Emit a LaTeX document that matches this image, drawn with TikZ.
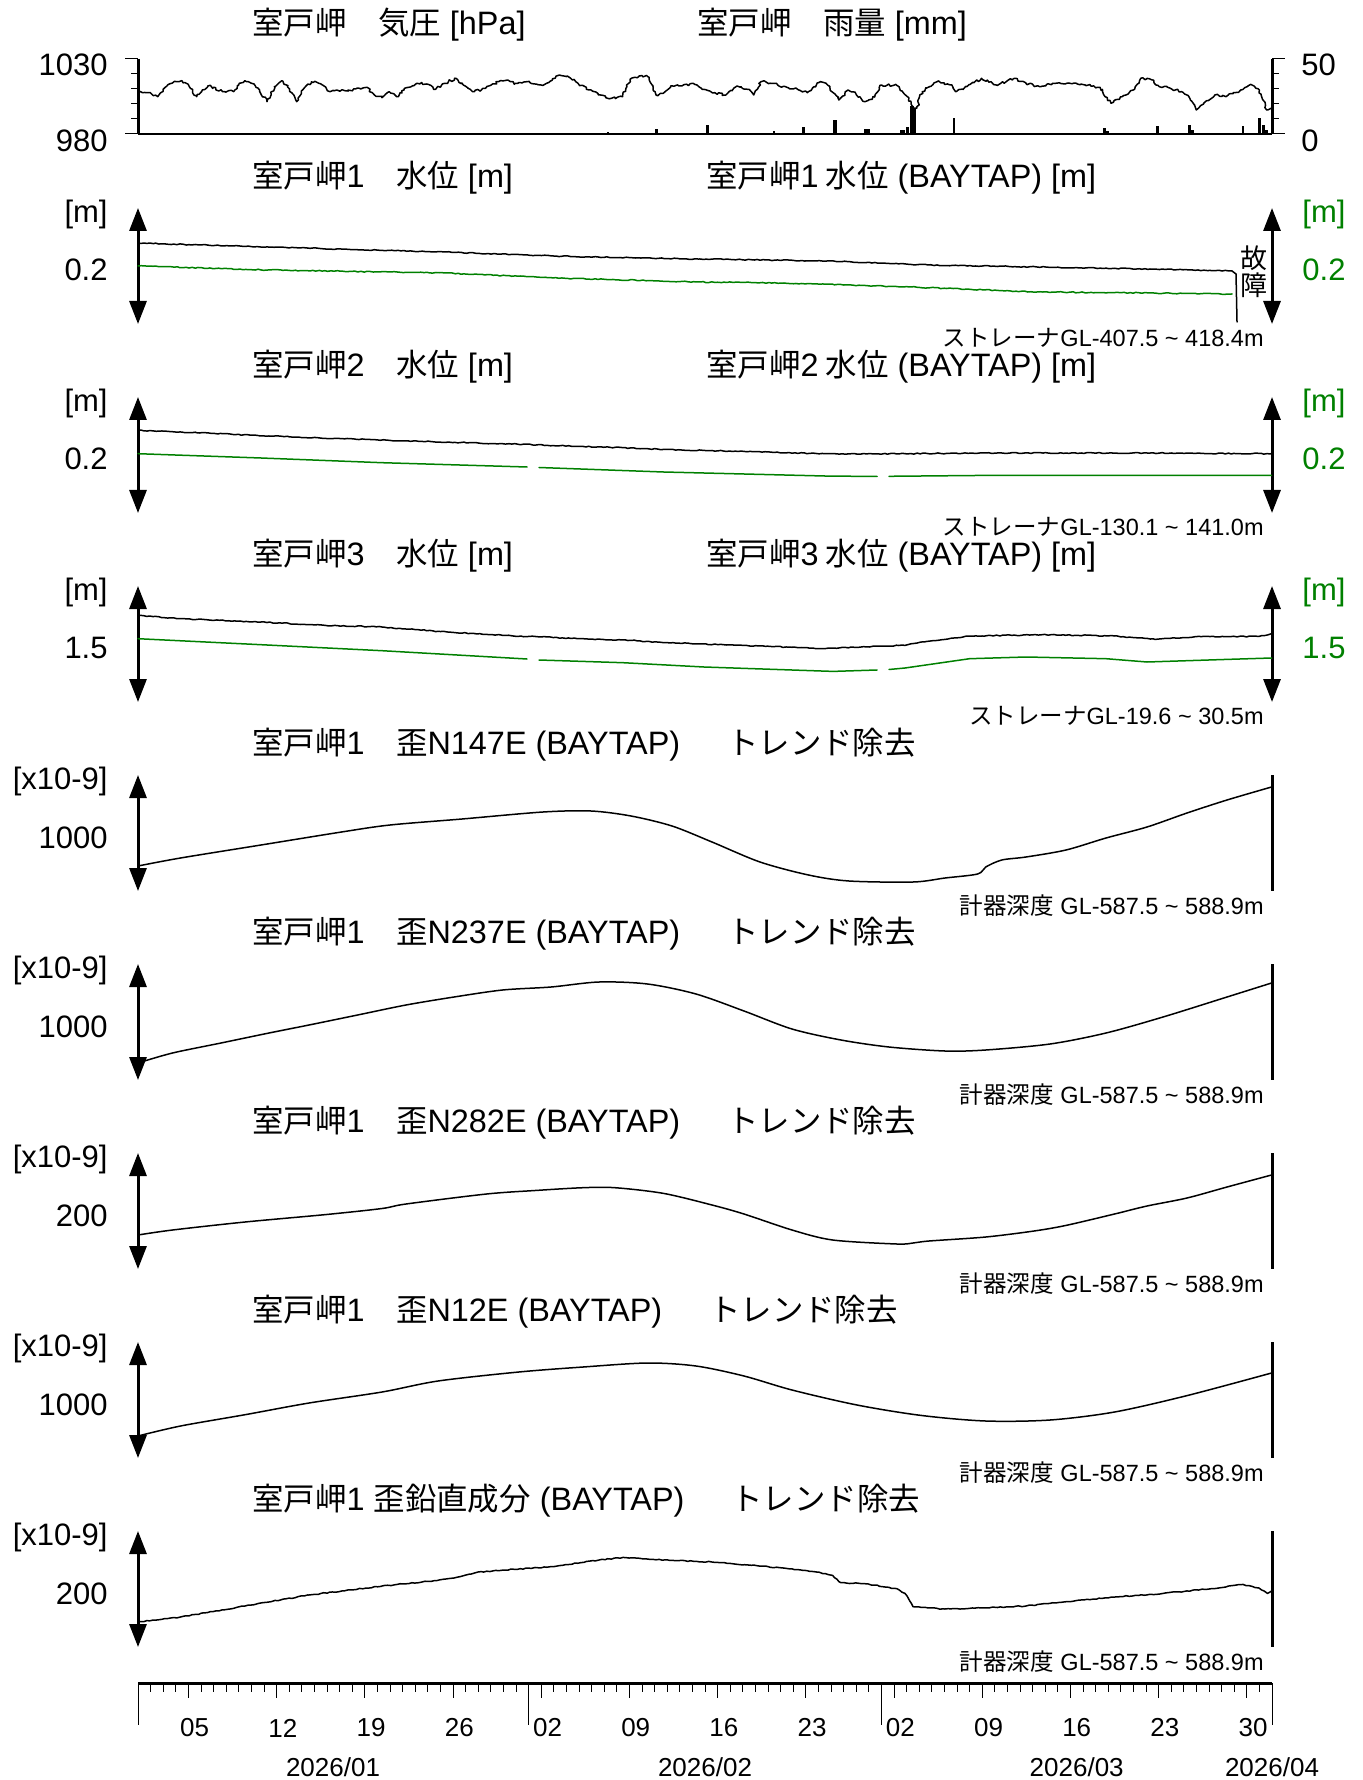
\documentclass[tikz,border=0pt]{standalone}
\usepackage{fontspec}
\setmainfont{Liberation Sans}
\newfontfamily\jp{Noto Sans CJK JP}
\newfontfamily\jps[Scale=0.97]{Noto Sans CJK JP}
\usetikzlibrary{arrows.meta,decorations.pathmorphing}
\definecolor{dgreen}{RGB}{0,128,0}
\begin{document}
\begin{tikzpicture}[x=0.5pt,y=-0.5pt,
  ttl/.style={anchor=west,inner sep=0pt,font=\fontsize{16.2}{18}\selectfont},
  lbl/.style={anchor=east,inner sep=0pt,font=\fontsize{15.5}{18}\selectfont},
  rlbl/.style={anchor=west,inner sep=0pt,font=\fontsize{15.5}{18}\selectfont,text=dgreen},
  note/.style={anchor=east,inner sep=0pt,font=\fontsize{11.75}{14}\selectfont},
  datelbl/.style={inner sep=0pt,font=\fontsize{13}{15}\selectfont},
  crv/.style={line width=0.75pt,line join=round,line cap=round},
  gcrv/.style={crv,draw=dgreen},
  noisy/.style={decorate,decoration={random steps,segment length=1.1pt,amplitude=0.65pt}},
  fine/.style={decorate,decoration={random steps,segment length=1.5pt,amplitude=0.25pt}},
  varrow/.style={line width=1.5pt,{Triangle[width=8.5pt,length=11.5pt]}-{Triangle[width=8.5pt,length=11.5pt]}},
  axl/.style={line width=1.5pt},
  tck/.style={line width=0.5pt}]
\pgfmathsetseed{7}
\useasboundingbox (0,0) rectangle (1362,1780);

% ---------------- Panel 1 : pressure / rain ----------------
\node[ttl] (t1a) at (252,25) {{\jps 室戸岬　気圧} [hPa]};
\node[ttl] (t1b) at (697,25) {{\jps 室戸岬　雨量} [mm]};
\draw[axl] (138,59) -- (138,134);
\draw[axl] (1272,59) -- (1272,134);
\draw[line width=1pt] (138,134) -- (1272,134);
\foreach \y in {59,134} {\draw[tck] (125,\y) -- (138,\y); \draw[tck] (1272,\y) -- (1285,\y);}
\foreach \y in {74,89,104,119} {\draw[tck] (131,\y) -- (138,\y); \draw[tck] (1272,\y) -- (1279,\y);}
\node[lbl] (p1030) at (108,65) {1030};
\node[lbl] (p980) at (108,141) {980};
\node[anchor=west,inner sep=0pt,font=\fontsize{15.5}{18}\selectfont] (r50) at (1301,65) {50};
\node[anchor=west,inner sep=0pt,font=\fontsize{15.5}{18}\selectfont] (r0) at (1301,141) {0};
\foreach \x/\t/\w in {607.8/132.5/2,656/129/3,707.5/125/3,774/131.5/2,803.7/127/3,835/120.5/4,866.7/129/6,902/130/5,907/127/3,911.5/106.5/4,914/108/3,954/118/2,994/133/3,1104/128/3,1107/131.5/3,1157.4/126.5/3,1189/125/3,1192.6/130/3,1242.6/126.5/2,1259/118/3,1263/125/3,1266.7/130/3}
  \fill ({\x-\w/2},134) rectangle ({\x+\w/2},\t);
\draw[crv,noisy] plot coordinates {(138,91.5) (146.7,92.7) (157.8,96.7) (165.2,87.3) (176.3,81.7) (181.9,80.7) (189.3,86.7) (196.7,96.7) (207.8,86) (213.3,87.3) (222.6,91.7) (233.7,91.7) (239.3,83.3) (244.8,80.7) (254,84) (259.6,90) (267,101.7) (274.4,86.7) (281.9,80.7) (287.4,86.7) (296.7,101.7) (304,88.3) (311.5,81.7) (318.9,83.3) (330,91.7) (344.8,90.7) (359.6,88.3) (367,87.3) (374.4,95) (381.9,97.7) (389.3,91.7) (396.7,96.7) (404,90) (417,83.3) (426.3,84) (435.6,89.3) (444.8,83.3) (455.9,78.3) (463.3,85) (474.4,91.7) (485.6,88.3) (500.4,80.7) (507.8,80) (515.2,83.3) (530,82.7) (541,85) (548.5,82.7) (559.6,75) (570.7,78.3) (578,83.3) (589.3,90) (600.4,95) (611.5,98.3) (622.6,96.7) (630,79.3) (639.3,76) (647.8,76.7) (656,95) (663.3,93.3) (670.7,86) (681.9,86) (693,83.3) (702.2,89.3) (714.8,92.7) (725.9,95) (737,86) (748,89.3) (753.7,95) (761,81.7) (774,83.3) (781.5,87.3) (796.3,88.3) (807.4,92.7) (818.5,82.7) (826,83.3) (838.9,100) (848,90) (855.6,93.3) (864.8,101.7) (872.2,99.3) (881.5,85) (896.3,85) (907.4,96.7) (913,108.3) (916.7,108.3) (922.2,91.7) (937,81.7) (951.9,85) (955.6,91.7) (966.7,86.7) (981.5,78.3) (996.3,85) (1007.4,80.7) (1014.8,78.3) (1025.9,83.3) (1040.7,86.7) (1055.6,83.3) (1066.7,83.3) (1085.2,85) (1100,87.3) (1111,103.3) (1122.2,96.7) (1133.3,90) (1140.7,78.3) (1151.9,80) (1159.3,86.7) (1170.4,88.3) (1181.5,91.7) (1188.9,96.7) (1196.3,110) (1203.7,103.3) (1214.8,95) (1225.9,96.7) (1240.7,90) (1251.9,85) (1259.3,90) (1263,100) (1266.7,110) (1271,108.3)};

% ---------------- Panels 2-4 : water level ----------------
\foreach \T/\n/\v in {178/1/0.2,367/2/0.2,556/3/1.5} {
  \node[ttl] (wl\n) at (252,\T) {{\jps 室戸岬}\n{\jps 　水位} [m]};
  \node[ttl] (wr\n) at (706,\T) {{\jps 室戸岬}\n{\jps\ 水位} (BAYTAP) [m]};
  \node[lbl] (wu\n) at (108,\T+36) {[m]};
  \node[lbl] (wv\n) at (108,\T+92) {\v};
  \node[rlbl] (wgu\n) at (1302,\T+36) {[m]};
  \node[rlbl] (wgv\n) at (1302,\T+92) {\v};
  \draw[varrow] (138,\T+30) -- (138,\T+146);
  \draw[varrow] (1272,\T+30) -- (1272,\T+146);
}
\node[note] (s1) at (1264,338) {{\jp ストレーナ}GL-407.5 \textasciitilde{} 418.4m};
\node[note] (s2) at (1264,527) {{\jp ストレーナ}GL-130.1 \textasciitilde{} 141.0m};
\node[note] (s3) at (1264,716) {{\jp ストレーナ}GL-19.6 \textasciitilde{} 30.5m};
\node[inner sep=0pt,font=\jp\fontsize{13.5}{15}\selectfont] (f1) at (1254,258) {故};
\node[inner sep=0pt,font=\jp\fontsize{13.5}{15}\selectfont] (f2) at (1254,285) {障};

% panel 2
\draw[crv,fine] plot coordinates {(138,243) (200,245) (268,247) (350,249.5) (446,252) (553,256) (620,257.5) (700,259) (827,261) (928,265) (1037,267) (1150,269) (1232,271)};
\draw[crv] (1232,271) -- (1236,274) -- (1237,322);
\draw[gcrv,fine] plot coordinates {(138,266) (268,270) (446,273) (553,278) (700,282) (784,283) (911,287) (1037,292) (1150,293) (1232,294)};
% panel 3
\draw[crv,fine] plot coordinates {(138,430.4) (196.6,432.7) (269,436) (341.5,438.7) (422,441.4) (502.6,443.7) (583,446.4) (663.6,449.4) (744,451.4) (824.6,453.7) (905,453.7) (985.7,453) (1066,453) (1147,453) (1271.5,453.7)};
\draw[gcrv] plot coordinates {(138,453.7) (261,458) (382,462.7) (527,467)};
\draw[gcrv] plot coordinates {(539,467.5) (663.6,472) (824.6,476) (877,476.5)};
\draw[gcrv] plot coordinates {(889,476.3) (985.7,475.4) (1147,475.4) (1271.5,475.4)};
% panel 4
\draw[crv,fine] plot coordinates {(138,615.4) (180.5,618.7) (261,622) (325.4,625.4) (382,627) (438,631.4) (502.6,635.4) (583,638.7) (631,640.4) (663.6,642.7) (744,645.4) (824.6,648.7) (881,646) (905,645.4) (921,642) (969.6,636) (1042,634.7) (1114.5,636) (1155,639.4) (1195,636.7) (1259,636.4) (1271.5,633.7)};
\draw[gcrv] plot coordinates {(138,638.7) (261,644.7) (382,650.7) (527,659)};
\draw[gcrv] plot coordinates {(539,660) (623,662.7) (704,667) (833,671.4) (877,670)};
\draw[gcrv] plot coordinates {(889,669.5) (905,668) (969.6,658.7) (1026,657) (1106,658.7) (1147,662) (1227,659.4) (1271.5,658)};

% ---------------- Panels 5-9 : strain ----------------
\node[ttl] (st5) at (252,745) {{\jps 室戸岬}1{\jps 　歪}N147E (BAYTAP)\hspace{1.45em}{\jps トレンド除去}};
\node[ttl] (st6) at (252,934) {{\jps 室戸岬}1{\jps 　歪}N237E (BAYTAP)\hspace{1.45em}{\jps トレンド除去}};
\node[ttl] (st7) at (252,1123) {{\jps 室戸岬}1{\jps 　歪}N282E (BAYTAP)\hspace{1.45em}{\jps トレンド除去}};
\node[ttl] (st8) at (252,1312) {{\jps 室戸岬}1{\jps 　歪}N12E (BAYTAP)\hspace{1.45em}{\jps トレンド除去}};
\node[ttl] (st9) at (252,1501) {{\jps 室戸岬}1 {\jps 歪鉛直成分} (BAYTAP)\hspace{1.45em}{\jps トレンド除去}};
\foreach \T/\n/\v in {745/5/1000,934/6/1000,1123/7/200,1312/8/1000,1501/9/200} {
  \node[lbl] (su\n) at (108,\T+36) {[x10-9]};
  \node[lbl] (sv\n) at (108,\T+93) {\v};
  \draw[varrow] (138,\T+30) -- (138,\T+146);
  \draw[axl] (1272,\T+30) -- (1272,\T+146);
  \node[note] (sd\n) at (1264,\T+161) {{\jp 計器深度} GL-587.5 \textasciitilde{} 588.9m};
}
\draw[crv] plot[smooth,tension=0.5] coordinates {(138,866) (180.5,858) (261,845) (341.5,832) (390,825) (462,819) (543,812) (591,811) (631,816) (672,826) (712,842) (760,862) (808.5,875) (849,881) (913,882) (945,878) (977.6,874) (985.7,867) (1001.8,860) (1026,857) (1066,850) (1106,838) (1147,827) (1187,813) (1227,800) (1271.5,787)};
\draw[crv] plot[smooth,tension=0.5] coordinates {(138,1063) (172.5,1053) (221,1043) (269,1033) (309,1025) (357.6,1015) (406,1005) (454,997) (502.6,990) (551,987) (599,982) (647.5,984) (696,994) (744,1011) (792,1029) (841,1040) (889,1047) (945,1051) (985.7,1050) (1050,1044) (1106,1033) (1163,1017) (1227,997) (1271.5,983)};
\draw[crv] plot[smooth,tension=0.5] coordinates {(138,1235) (172.5,1230) (245,1222) (325.4,1214.6) (382,1208.5) (406,1204) (486.5,1194) (535,1190.5) (583,1187.7) (615,1187.7) (663.6,1193.4) (712,1205) (744,1214) (792,1230) (832.7,1240) (897,1244) (913,1243) (929,1241) (985.7,1237) (1034,1231) (1066,1225.4) (1114.5,1214) (1147,1206) (1187,1198) (1227,1187) (1271.5,1175)};
\draw[crv] plot[smooth,tension=0.5] coordinates {(138,1436) (180.5,1426) (245,1414.7) (309,1403) (382,1392) (438,1381) (518.7,1372) (583,1367) (647.5,1363) (696,1366) (744,1376) (792,1390) (857,1405) (921,1415.4) (985.7,1421) (1050,1420) (1114.5,1412) (1187,1395.6) (1271.5,1373)};
\draw[crv,fine] plot coordinates {(138,1622) (180.5,1617) (245,1606) (309,1595) (382,1586) (422,1582) (454,1578) (478,1572) (551,1566.6) (599,1560) (623,1557.4) (663.6,1560) (712,1562) (768,1566.6) (816.6,1572) (832.7,1575.4) (840.7,1582.6) (865,1583.7) (897,1588.7) (905,1593.4) (913,1606.7) (945,1609) (985.7,1607.8) (1026,1606) (1066,1601.7) (1114.5,1597) (1163,1593.4) (1211,1588.7) (1243,1584.4) (1259,1588) (1267.5,1593.4) (1271.5,1591)};

% ---------------- Time axis ----------------
\draw[axl] (138,1683) -- (1272,1683);
\foreach \d in {0,...,90} \draw[tck] ({138+\d*12.6},1683) -- ++(0,9);
\foreach \d in {4,11,18,25,32,39,46,53,60,67,74,81,88} \draw[tck] ({138+\d*12.6},1683) -- ++(0,15);
\foreach \d in {0,31,59,90} \draw[tck] ({138+\d*12.6},1683) -- ++(0,42);
\foreach \d/\s in {4/05,11/12,18/19,25/26,32/02,39/09,46/16,53/23,60/02,67/09,74/16,81/23,88/30}
  \node[datelbl] (dl\d) at ({138+(\d+0.5)*12.6},1728) {\s};
\node[datelbl] (m1) at (333,1767) {2026/01};
\node[datelbl] (m2) at (705,1767) {2026/02};
\node[datelbl] (m3) at (1076.7,1767) {2026/03};
\node[datelbl] (m4) at (1272,1767) {2026/04};
\end{tikzpicture}
\end{document}
